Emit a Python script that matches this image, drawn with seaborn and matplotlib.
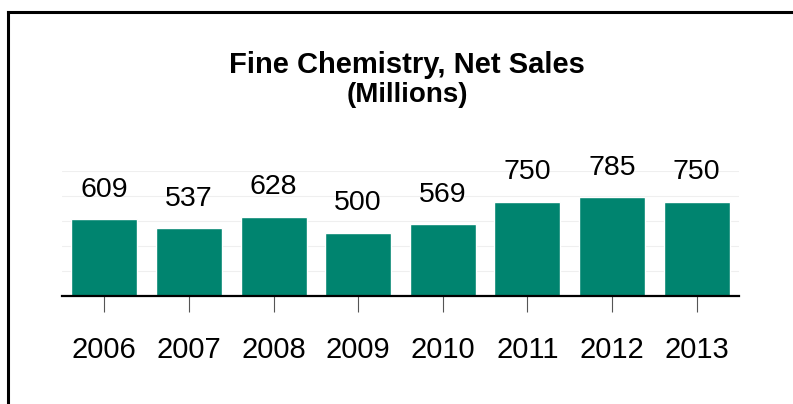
import matplotlib
matplotlib.use("Agg")
import matplotlib.pyplot as plt
from matplotlib.lines import Line2D
import seaborn as sns
import pandas as pd

years = ["2006", "2007", "2008", "2009", "2010", "2011", "2012", "2013"]
net_sales = [609, 537, 628, 500, 569, 750, 785, 750]

bar_color = "#00846f"

sns.set_theme(style="white")
plt.rcParams["font.family"] = ["Liberation Sans", "DejaVu Sans"]

df = pd.DataFrame({"year": years, "sales": net_sales})

W, H = 793, 404
fig = plt.figure(figsize=(W / 100, H / 100), dpi=100)
fig.patch.set_facecolor("white")

left, right = 62 / W, 739 / W
bottom, top = (H - 295.7) / H, (H - 170.5) / H
ax = fig.add_axes([left, bottom, right - left, top - bottom])

sns.barplot(data=df, x="year", y="sales", color=bar_color, saturation=1,
            width=0.78, ax=ax, zorder=3)

ax.set_ylim(0, 1000)
ax.set_xlim(-0.5, len(years) - 0.5)
ax.set_yticks([200, 400, 600, 800, 1000])
ax.yaxis.grid(True, color="#efefef", linewidth=0.8, zorder=0)
ax.set_yticklabels([])
ax.tick_params(axis="y", length=0)
ax.set_xlabel("")
ax.set_ylabel("")

for s in ["top", "left", "right"]:
    ax.spines[s].set_visible(False)
ax.spines["bottom"].set_color("black")
ax.spines["bottom"].set_linewidth(1.6)
ax.spines["bottom"].set_zorder(4)

ax.tick_params(axis="x", bottom=True, length=11.5, width=0.8, color="#555555",
               pad=17.5, labelsize=21, labelcolor="black")

# value labels above each bar
for i, v in enumerate(net_sales):
    ax.annotate(f"{v}", xy=(i, v), xytext=(0, 21.5), textcoords="offset points",
                ha="center", va="center", fontsize=20.5, color="black")

# chart title
fig.text(407 / W, (H - 73) / H, "Fine Chemistry, Net Sales", ha="center",
         va="baseline", fontsize=21, fontweight="bold", color="black")
fig.text(407 / W, (H - 102) / H, "(Millions)", ha="center",
         va="baseline", fontsize=20, fontweight="bold", color="black")

# frame along the top and left edges
fig.add_artist(Line2D([8 / W, 1.0], [(H - 12) / H, (H - 12) / H],
                      transform=fig.transFigure, color="black", linewidth=2.2,
                      solid_capstyle="projecting"))
fig.add_artist(Line2D([8 / W, 8 / W], [(H - 12) / H, 0.0],
                      transform=fig.transFigure, color="black", linewidth=2.2,
                      solid_capstyle="projecting"))

fig.savefig("out.png", dpi=100, facecolor="white")
